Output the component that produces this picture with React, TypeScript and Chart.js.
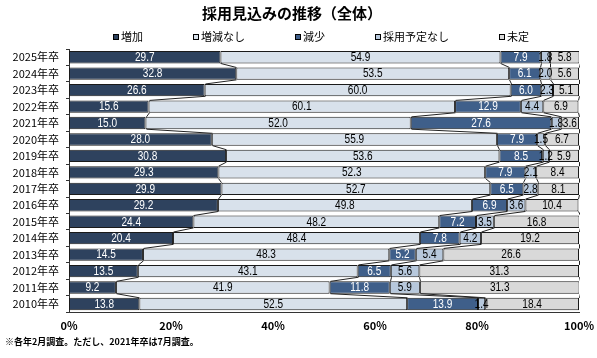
import React, { useEffect, useRef } from "react";
import { Chart, registerables } from "chart.js";

Chart.register(...registerables);

const chartTitle = "採用見込みの推移（全体）";
const footNote = "※各年2月調査。ただし、2021年卒は7月調査。";
const categories = [
  "2025年卒", "2024年卒", "2023年卒", "2022年卒", "2021年卒", "2020年卒", "2019年卒", "2018年卒",
  "2017年卒", "2016年卒", "2015年卒", "2014年卒", "2013年卒", "2012年卒", "2011年卒", "2010年卒",
];
const seriesNames = ["増加", "増減なし", "減少", "採用予定なし", "未定"];
const increase = [29.7, 32.8, 26.6, 15.6, 15.0, 28.0, 30.8, 29.3, 29.9, 29.2, 24.4, 20.4, 14.5, 13.5, 9.2, 13.8];
const noChange = [54.9, 53.5, 60.0, 60.1, 52.0, 55.9, 53.6, 52.3, 52.7, 49.8, 48.2, 48.4, 48.3, 43.1, 41.9, 52.5];
const decrease = [7.9, 6.1, 6.0, 12.9, 27.6, 7.9, 8.5, 7.9, 6.5, 6.9, 7.2, 7.8, 5.2, 6.5, 11.8, 13.9];
const noPlan = [1.8, 2.0, 2.3, 4.4, 1.8, 1.5, 1.2, 2.1, 2.8, 3.6, 3.5, 4.2, 5.4, 5.6, 5.9, 1.4];
const undecided = [5.8, 5.6, 5.1, 6.9, 3.6, 6.7, 5.9, 8.4, 8.1, 10.4, 16.8, 19.2, 26.6, 31.3, 31.3, 18.4];
const seriesValues = [increase, noChange, decrease, noPlan, undecided];
const seriesColors = ["#2E425E", "#D8E1EB", "#3F5F8A", "#B7C8DC", "#D9D9D9"];
const labelColors = ["#FFFFFF", "#000000", "#FFFFFF", "#000000", "#000000"];
const xMin = 0;
const xMax = 100;
const xStep = 20;

const JP = "'Noto Sans CJK JP', 'Noto Sans', sans-serif";
const LATIN = "'Liberation Sans', Arial, sans-serif";

const seriesLinesPlugin = {
  id: "seriesLines",
  afterDatasetsDraw(chart: any) {
    const ctx = chart.ctx;
    const area = chart.chartArea;
    ctx.save();
    ctx.beginPath();
    ctx.rect(area.left, area.top, area.right - area.left + 1, area.bottom - area.top);
    ctx.clip();
    ctx.strokeStyle = "#222222";
    ctx.lineWidth = 1;
    chart.data.datasets.forEach((_: any, d: number) => {
      const meta = chart.getDatasetMeta(d);
      for (let i = 0; i < meta.data.length - 1; i++) {
        const a = meta.data[i].getProps(["x", "y", "height"], true);
        const b = meta.data[i + 1].getProps(["x", "y", "height"], true);
        ctx.beginPath();
        ctx.moveTo(Math.round(a.x) + 0.5, a.y + a.height / 2);
        ctx.lineTo(Math.round(b.x) + 0.5, b.y - b.height / 2);
        ctx.stroke();
      }
    });
    ctx.restore();
  },
};

const valueLabelsPlugin = {
  id: "valueLabels",
  afterDatasetsDraw(chart: any) {
    const ctx = chart.ctx;
    chart.data.datasets.forEach((ds: any, d: number) => {
      const meta = chart.getDatasetMeta(d);
      meta.data.forEach((el: any, i: number) => {
        const p = el.getProps(["x", "y", "base"], true);
        ctx.save();
        ctx.font = `12px ${LATIN}`;
        ctx.textAlign = "center";
        ctx.textBaseline = "middle";
        ctx.fillStyle = labelColors[d];
        ctx.translate((p.x + p.base) / 2, p.y + 0.5);
        ctx.scale(0.84, 1);
        ctx.fillText(Number(ds.data[i]).toFixed(1), 0, 0);
        ctx.restore();
      });
    });
  },
};

const customLegendPlugin = {
  id: "customLegend",
  afterDraw(chart: any) {
    const ctx = chart.ctx;
    ctx.save();
    ctx.font = `11px ${JP}`;
    ctx.textBaseline = "middle";
    ctx.textAlign = "left";
    let x = 113;
    const y = 37;
    chart.data.datasets.forEach((ds: any) => {
      ctx.fillStyle = ds.backgroundColor;
      ctx.fillRect(x, y - 3, 6, 6);
      ctx.strokeStyle = "#000000";
      ctx.lineWidth = 1;
      ctx.strokeRect(x + 0.5, y - 2.5, 5, 5);
      ctx.fillStyle = "#000000";
      ctx.fillText(ds.label, x + 8, y);
      x += 8 + ctx.measureText(ds.label).width + 50;
    });
    ctx.restore();
  },
};

export default function App() {
  const canvasRef = useRef<HTMLCanvasElement | null>(null);

  useEffect(() => {
    if (!canvasRef.current) return;
    const chart = new Chart(canvasRef.current, {
      type: "bar",
      data: {
        labels: categories,
        datasets: seriesNames.map((name, k) => ({
          label: name,
          data: seriesValues[k],
          backgroundColor: seriesColors[k],
          borderColor: "#1A1A1A",
          borderWidth: 1,
          borderSkipped: false,
          categoryPercentage: 0.75,
          barPercentage: 1,
        })),
      },
      options: {
        indexAxis: "y",
        animation: false,
        responsive: true,
        maintainAspectRatio: false,
        layout: { padding: { left: 5, right: 18, top: 0, bottom: 0 } },
        plugins: {
          legend: { display: false },
          tooltip: { enabled: false },
          title: {
            display: true,
            text: chartTitle,
            color: "#000000",
            font: { family: JP, size: 15, weight: "bold", lineHeight: 1.2 },
            padding: { top: 4, bottom: 27 },
          },
          subtitle: {
            display: true,
            text: footNote,
            position: "bottom",
            align: "start",
            color: "#000000",
            font: { family: JP, size: 9, weight: "bold", lineHeight: 1.2 },
            padding: { top: 4, bottom: 11 },
          },
        },
        scales: {
          x: {
            type: "linear",
            stacked: true,
            min: xMin,
            max: xMax,
            grid: { display: false, drawTicks: true, tickLength: 7 },
            border: { display: true, color: "#333333", width: 1 },
            ticks: {
              stepSize: xStep,
              padding: 0,
              color: "#000000",
              font: { family: JP, size: 11, weight: "bold" },
              callback: (v: any) => `${v}%`,
            },
            afterFit: (s: any) => {
              s.height = 20;
            },
          },
          y: {
            type: "category",
            stacked: true,
            grid: { display: true, drawOnChartArea: false, drawTicks: true, tickLength: 3, color: "#333333" },
            border: { display: true, color: "#333333", width: 1 },
            ticks: {
              padding: 7,
              color: "#000000",
              font: { family: JP, size: 11 },
            },
            afterFit: (s: any) => {
              s.width = 64;
            },
          },
        },
      },
      plugins: [seriesLinesPlugin, valueLabelsPlugin, customLegendPlugin],
    });
    return () => chart.destroy();
  }, []);

  return (
    <div style={{ position: "absolute", left: 0, top: 0, width: 597, height: 358, background: "#FFFFFF" }}>
      <canvas ref={canvasRef} />
    </div>
  );
}
